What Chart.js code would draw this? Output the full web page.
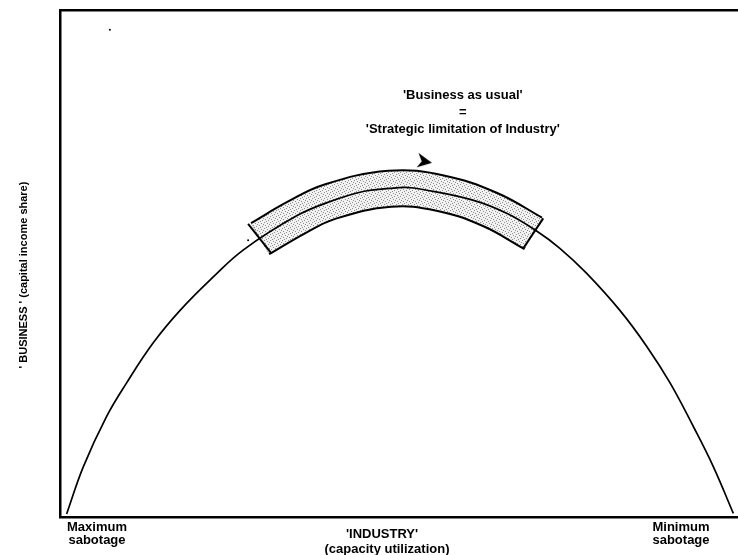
<!DOCTYPE html>
<html>
<head>
<meta charset="utf-8">
<script src="https://cdn.jsdelivr.net/npm/chart.js@4.4.1/dist/chart.umd.min.js"></script>
<style>
  html, body { margin: 0; padding: 0; background: #fff; }
  #chart { display: block; }
</style>
</head>
<body>
<canvas id="chart" width="738" height="555"></canvas>
<script>
// x = 'INDUSTRY' (capacity utilization), y = 'BUSINESS' (capital income share), both on a 0-100 scale
const curveX = [0, 2.5, 6, 9, 13, 17.1, 22.1, 26.6, 34.6, 39.6, 44.6, 48.6, 51, 53.6, 61.1, 66.2, 70.7, 74.2, 78.2, 83.2, 87.3, 90.8, 94.3, 97.3, 100.3];
const curveY = [0.6, 9.9, 19.8, 26.4, 34.3, 40.8, 47.4, 52.7, 59.4, 62.2, 64.2, 64.8, 65.0, 64.6, 62.5, 59.9, 56.4, 53.0, 48.1, 40.8, 33.6, 26.4, 17.8, 9.9, 0.7];

// centre line of the shaded 'business as usual' band
const bandX = [29.1, 34.6, 39.6, 48.6, 56.2, 63.7, 70.2];
const bandY = [54.9, 59.1, 62.2, 64.75, 63.9, 60.65, 55.95];

// the two end caps of the band
const capLeftX = [27.3, 30.8];
const capLeftY = [57.8, 52.0];
const capRightX = [71.7, 68.7];
const capRightY = [58.9, 53.0];

const arrowX = [53.9];
const arrowY = [70.4];

// stray specks on the scan
const speckX = [6.5, 27.3];
const speckY = [96.1, 54.6];

const titleLines = ["'Business as usual'", "=", "'Strategic limitation of Industry'"];
const yTitle = "' BUSINESS ' (capital income share)";
const xTitle = ["'INDUSTRY'", "(capacity utilization)"];
const leftEnd = ["Maximum", "sabotage"];
const rightEnd = ["Minimum", "sabotage"];

const toPts = (xs, ys) => xs.map((x, i) => ({ x: x, y: ys[i] }));

function stipple() {
    const c = document.createElement('canvas');
    c.width = 6; c.height = 6;
    const g = c.getContext('2d');
    g.fillStyle = '#f2f2f2';
    g.fillRect(0, 0, 6, 6);
    g.fillStyle = '#8c8c8c';
    [[0, 0], [3, 1], [5, 2], [1, 3], [4, 4], [2, 5]].forEach(p => g.fillRect(p[0], p[1], 1, 1));
    return document.createElement('canvas').getContext('2d').createPattern(c, 'repeat');
}

function arrowHead() {
    const c = document.createElement('canvas');
    c.width = 20; c.height = 20;
    const g = c.getContext('2d');
    g.translate(10, 10);
    g.fillStyle = '#000';
    g.beginPath();
    g.moveTo(7, 2.7);
    g.lineTo(-6.5, -7.3);
    g.lineTo(-3.2, 1.2);
    g.lineTo(-8.3, 7.3);
    g.closePath();
    g.fill();
    return c;
}

const FONT = '"Liberation Sans", Arial, sans-serif';

const labelPlugin = {
    id: 'labels',
    afterDraw(chart) {
        const { ctx, chartArea: a, scales } = chart;
        ctx.save();
        ctx.fillStyle = '#000';
        ctx.textAlign = 'center';
        ctx.textBaseline = 'middle';

        // title above the band
        ctx.font = 'bold 13px ' + FONT;
        const tx = scales.x.getPixelForValue(59.6);
        const ty = scales.y.getPixelForValue(83.2);
        titleLines.forEach((t, i) => ctx.fillText(t, tx, ty + i * 17));

        // end labels under the axis
        leftEnd.forEach((t, i) => ctx.fillText(t, a.left + 37, a.bottom + 10 + i * 13));
        rightEnd.forEach((t, i) => ctx.fillText(t, a.left + 621, a.bottom + 10 + i * 13));
        xTitle.forEach((t, i) => ctx.fillText(t, a.left + 322 + i * 5, a.bottom + 17 + i * 15));

        // vertical axis label
        ctx.font = 'bold 11px ' + FONT;
        ctx.translate(24, 275);
        ctx.rotate(-Math.PI / 2);
        ctx.fillText(yTitle, 0, 0);
        ctx.restore();
    }
};

const hidden = { display: false, drawTicks: false };
const frame = { display: true, color: '#000', width: 2.5 };

new Chart(document.getElementById('chart').getContext('2d'), {
    type: 'scatter',
    data: {
        datasets: [
            {
                label: 'arrow',
                data: toPts(arrowX, arrowY),
                pointStyle: arrowHead(),
                order: 0
            },
            {
                label: 'specks',
                data: toPts(speckX, speckY),
                pointRadius: 1,
                backgroundColor: '#000',
                borderWidth: 0,
                order: 0
            },
            {
                label: 'curve',
                data: toPts(curveX, curveY),
                showLine: true,
                borderColor: '#000',
                borderWidth: 1.7,
                pointRadius: 0,
                tension: 0.4,
                order: 1
            },
            {
                label: 'cap left',
                data: toPts(capLeftX, capLeftY),
                showLine: true,
                borderColor: '#000',
                borderWidth: 2,
                pointRadius: 0,
                order: 2
            },
            {
                label: 'cap right',
                data: toPts(capRightX, capRightY),
                showLine: true,
                borderColor: '#000',
                borderWidth: 2,
                pointRadius: 0,
                order: 2
            },
            {
                label: 'band',
                data: toPts(bandX, bandY),
                showLine: true,
                borderColor: stipple(),
                borderWidth: 34,
                borderCapStyle: 'butt',
                pointRadius: 0,
                tension: 0.4,
                order: 3
            },
            {
                label: 'band edge',
                data: toPts(bandX, bandY),
                showLine: true,
                borderColor: '#000',
                borderWidth: 38,
                borderCapStyle: 'butt',
                pointRadius: 0,
                tension: 0.4,
                order: 4
            }
        ]
    },
    options: {
        responsive: false,
        animation: false,
        events: [],
        layout: { autoPadding: false, padding: { left: 60, top: 10, right: 0, bottom: 38 } },
        plugins: {
            legend: { display: false },
            tooltip: { enabled: false }
        },
        scales: {
            x: {
                type: 'linear', min: -1, max: 101, position: 'bottom',
                ticks: { display: false }, grid: hidden,
                border: Object.assign({ dash: [95, 2, 2000] }, frame)
            },
            x2: {
                type: 'linear', min: -1, max: 101, position: 'top',
                ticks: { display: false }, grid: hidden, border: frame
            },
            y: {
                type: 'linear', min: 0, max: 100, position: 'left',
                ticks: { display: false }, grid: hidden,
                border: Object.assign({ dash: [330, 2, 2000] }, frame)
            }
        }
    },
    plugins: [labelPlugin]
});
</script>
</body>
</html>
